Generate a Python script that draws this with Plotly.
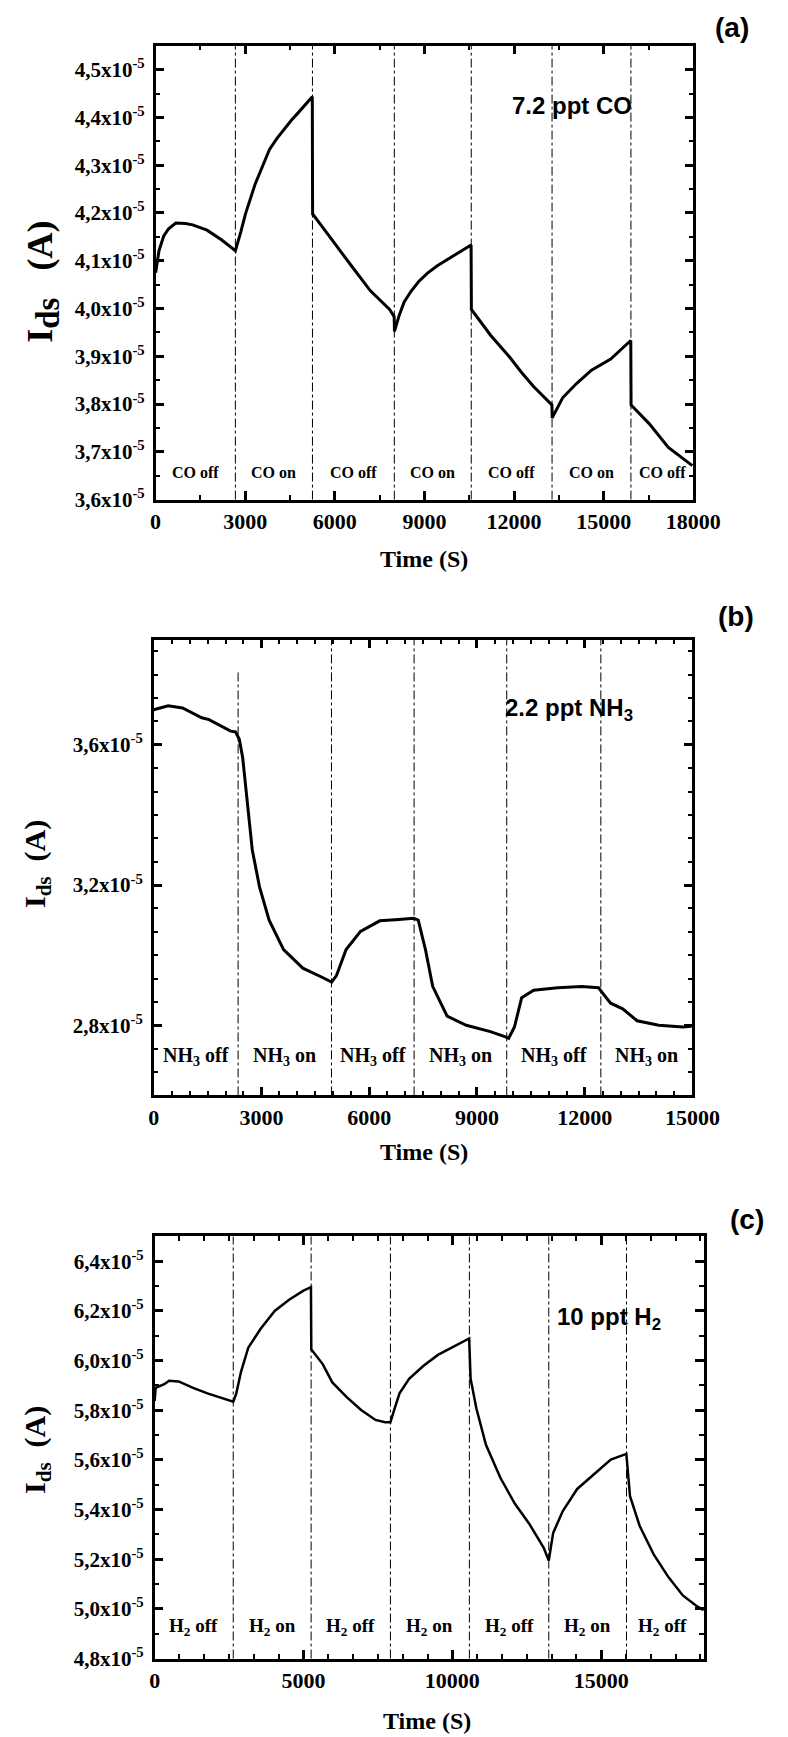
import plotly.graph_objects as go

# ---------------- data (current in units of 1e-5 A) ----------------
# Panel (a): 7.2 ppt CO
t_a = [0, 113, 273, 434, 676, 1000, 1238, 1721, 2204, 2670,
       2850, 3008, 3330, 3600, 3812, 4050, 4295, 4530, 4777, 5020, 5245,
       5255, 5600, 5900, 6546, 7190, 7833, 7985,
       7995, 8150, 8316, 8550, 8800, 9100, 9442, 9800, 10085, 10560,
       10570, 10900, 11212, 11854, 12250, 12658, 13265,
       13275, 13450, 13624, 14107, 14590, 15233, 15905,
       15915, 16519, 17162, 17966]
i_a = [4.075, 4.121, 4.152, 4.167, 4.179, 4.178, 4.175, 4.164, 4.144, 4.121,
       4.160, 4.198, 4.260, 4.300, 4.333, 4.355, 4.375, 4.393, 4.410, 4.427, 4.443,
       4.198, 4.170, 4.144, 4.090, 4.037, 3.998, 3.983,
       3.952, 3.985, 4.013, 4.036, 4.056, 4.074, 4.090, 4.104, 4.114, 4.133,
       3.998, 3.970, 3.944, 3.898, 3.866, 3.836, 3.798,
       3.771, 3.793, 3.813, 3.844, 3.871, 3.894, 3.933,
       3.798, 3.759, 3.709, 3.671]
switch_a = [0, 2670, 5250, 7990, 10565, 13270, 15910, 18000]
labels_a = ["CO off", "CO on", "CO off", "CO on", "CO off", "CO on", "CO off"]
yticks_a = [3.6, 3.7, 3.8, 3.9, 4.0, 4.1, 4.2, 4.3, 4.4, 4.5]

# Panel (b): 2.2 ppt NH3
t_b = [0, 402, 803, 1339, 1540, 1875, 2143, 2277, 2384, 2478, 2612, 2745, 2946,
       3214, 3616, 4152, 4687, 4955, 5089, 5357, 5759, 6295, 6830, 7232, 7366,
       7567, 7768, 8170, 8705, 9375, 9777, 9884, 10045, 10246, 10580, 11250,
       11920, 12388, 12522, 12723, 13058, 13460, 14062, 14732, 14973]
i_b = [3.700, 3.711, 3.705, 3.677, 3.672, 3.653, 3.639, 3.637, 3.616, 3.563, 3.426, 3.300, 3.195,
       3.100, 3.016, 2.963, 2.937, 2.923, 2.942, 3.016, 3.068, 3.098, 3.102, 3.105, 3.100,
       3.016, 2.911, 2.826, 2.800, 2.782, 2.768, 2.763, 2.795, 2.879, 2.900, 2.907,
       2.911, 2.907, 2.889, 2.863, 2.847, 2.813, 2.800, 2.795, 2.797]
switch_b = [0, 2350, 4950, 7250, 9830, 12450, 15000]
labels_b = ["NH<sub>3</sub> off", "NH<sub>3</sub> on", "NH<sub>3</sub> off",
            "NH<sub>3</sub> on", "NH<sub>3</sub> off", "NH<sub>3</sub> on"]
yticks_b = [2.8, 3.2, 3.6]

# Panel (c): 10 ppt H2
t_c = [0, 32, 323, 484, 806, 1290, 1774, 2258, 2640,
       2742, 2903, 3145, 3548, 4032, 4516, 5000, 5250,
       5262, 5645, 5968, 6452, 6935, 7419, 7742, 7920,
       8065, 8226, 8548, 9032, 9516, 10000, 10565,
       10613, 10806, 11129, 11613, 12097, 12581, 13065, 13239,
       13387, 13710, 14194, 14677, 15323, 15845,
       15968, 16290, 16774, 17258, 17742, 18226, 18440]
i_c = [5.838, 5.890, 5.905, 5.919, 5.916, 5.890, 5.868, 5.850, 5.834,
       5.868, 5.956, 6.052, 6.126, 6.200, 6.245, 6.282, 6.296,
       6.045, 5.986, 5.912, 5.853, 5.801, 5.761, 5.752, 5.752,
       5.809, 5.868, 5.927, 5.979, 6.023, 6.052, 6.089,
       5.927, 5.808, 5.661, 5.528, 5.424, 5.343, 5.247, 5.195,
       5.306, 5.394, 5.483, 5.535, 5.601, 5.624,
       5.454, 5.335, 5.217, 5.128, 5.054, 5.010, 4.995]
switch_c = [0, 2640, 5256, 7920, 10572, 13239, 15850, 18300]
labels_c = ["H<sub>2</sub> off", "H<sub>2</sub> on", "H<sub>2</sub> off", "H<sub>2</sub> on",
            "H<sub>2</sub> off", "H<sub>2</sub> on", "H<sub>2</sub> off"]
yticks_c = [4.8, 5.0, 5.2, 5.4, 5.6, 5.8, 6.0, 6.2, 6.4]

SC = 1e-5
SERIF = "Liberation Serif, Times New Roman, serif"
SANS = "Liberation Sans Narrow, Liberation Sans, Arial, sans-serif"
NB = "\u00a0"

fig = go.Figure()

panels = [
    dict(t=t_a, i=i_a, sw=switch_a, lab=labels_a, yt=yticks_a, xr=[0, 18000], yr=[3.6, 4.55],
         dx=3000, mdx=1500, mdy=0.05, dom_x=[148/788, 710/788], dom_y=[1-495/1737, 1-38/1737],
         lw=3, laby=0.06, labsize=16, vtop=None),
    dict(t=t_b, i=i_b, sw=switch_b, lab=labels_b, yt=yticks_b, xr=[0, 15000], yr=[2.6, 3.9],
         dx=3000, mdx=500, mdy=0.4/6, dom_x=[146/788, 709/788], dom_y=[1-1095/1737, 1-636/1737],
         lw=3, laby=0.085, labsize=20, vtop=3.81),
    dict(t=t_c, i=i_c, sw=switch_c, lab=labels_c, yt=yticks_c, xr=[0, 18450], yr=[4.8, 6.5],
         dx=5000, mdx=5000/6, mdy=0.1, dom_x=[147/788, 721/788], dom_y=[1-1662/1737, 1-1237/1737],
         lw=2.5, laby=0.075, labsize=19, vtop=None),
]

shapes = []
annotations = []
layout_axes = {}
for k, p in enumerate(panels):
    n = "" if k == 0 else str(k + 1)
    xa, ya = "x" + n, "y" + n
    fig.add_trace(go.Scatter(x=p["t"], y=[v * SC for v in p["i"]], mode="lines",
                             line=dict(color="black", width=p["lw"]),
                             xaxis=xa, yaxis=ya, showlegend=False, hoverinfo="skip"))
    ticktext = [("%.1f" % v).replace(".", ",") + "x10<sup>-5</sup>" for v in p["yt"]]
    layout_axes["xaxis" + n] = dict(
        domain=p["dom_x"], anchor=ya, range=p["xr"], tickmode="linear", tick0=0, dtick=p["dx"],
        tickformat="d",
        showline=True, linewidth=2.5, linecolor="black", mirror="ticks",
        ticks="inside", ticklen=9, tickwidth=2.5, tickcolor="black",
        minor=dict(ticks="inside", ticklen=5, tickwidth=2, tickcolor="black", dtick=p["mdx"], tick0=0),
        showgrid=False, zeroline=False,
        tickfont=dict(family=SERIF, size=22, color="black", weight="bold"))
    layout_axes["yaxis" + n] = dict(
        domain=p["dom_y"], anchor=xa, range=[p["yr"][0] * SC, p["yr"][1] * SC],
        tickmode="array", tickvals=[v * SC for v in p["yt"]], ticktext=ticktext,
        showline=True, linewidth=2.5, linecolor="black", mirror="ticks",
        ticks="inside", ticklen=9, tickwidth=2.5, tickcolor="black",
        minor=dict(ticks="inside", ticklen=5, tickwidth=2, tickcolor="black",
                   tickmode="linear", dtick=p["mdy"] * SC, tick0=p["yt"][0] * SC),
        showgrid=False, zeroline=False, ticklabelstandoff=4,
        tickfont=dict(family=SERIF, size=21, color="black", weight="bold"))
    # switching lines
    for j, s in enumerate(p["sw"][1:-1]):
        if k == 1 and j == 0 and p["vtop"] is not None:
            shapes.append(dict(type="line", xref=xa, yref=ya, x0=s, x1=s,
                               y0=p["yr"][0] * SC, y1=p["vtop"] * SC,
                               line=dict(color="black", width=1, dash="dashdot")))
        else:
            shapes.append(dict(type="line", xref=xa, yref=ya + " domain", x0=s, x1=s, y0=0, y1=1,
                               line=dict(color="black", width=1, dash="dashdot")))
    # region labels
    for j, lab in enumerate(p["lab"]):
        xc = (p["sw"][j] + p["sw"][j + 1]) / 2
        annotations.append(dict(text=lab, xref=xa, yref=ya + " domain", x=xc, y=p["laby"],
                                showarrow=False, xanchor="center", yanchor="middle",
                                font=dict(family=SERIF, size=p["labsize"], color="black", weight="bold")))

def pa(text, x, y, font, angle=0):
    annotations.append(dict(text=text, xref="paper", yref="paper", x=x / 788, y=1 - y / 1737,
                            showarrow=False, xanchor="center", yanchor="middle",
                            textangle=angle, font=font))

f_lab = dict(family=SANS, size=28, color="black", weight="bold")
f_ann = dict(family=SANS, size=24, color="black", weight="bold")
f_title = dict(family=SERIF, size=24, color="black", weight="bold")
f_ytitle_a = dict(family=SERIF, size=36, color="black", weight="bold")
f_ytitle = dict(family=SERIF, size=30, color="black", weight="bold")

pa("(a)", 750, 20, f_lab)
pa("(b)", 755, 613, f_lab)
pa("(c)", 766, 1220, f_lab)
pa("7.2 ppt CO", 583, 98, f_ann)
pa("2.2 ppt NH<sub>3</sub>", 580, 706, f_ann)
pa("10 ppt H<sub>2</sub>", 622, 1320, f_ann)
pa("Time (S)", 429, 555, f_title)
pa("Time (S)", 428, 1152, f_title)
pa("Time (S)", 432, 1725, f_title)
pa("I<sub><span style='font-size:33px'>ds</span></sub>" + NB + NB + NB + "(A)", 30, 276, f_ytitle_a, -90)
pa("I<sub>ds</sub>" + NB + NB + "(A)", 24, 862, f_ytitle, -90)
pa("I<sub>ds</sub>" + NB + NB + "(A)", 24, 1452, f_ytitle, -90)

fig.update_layout(width=788, height=1737, margin=dict(l=0, r=0, t=0, b=0),
                  paper_bgcolor="white", plot_bgcolor="white",
                  shapes=shapes, annotations=annotations, **layout_axes)

fig.write_html("out.html")
